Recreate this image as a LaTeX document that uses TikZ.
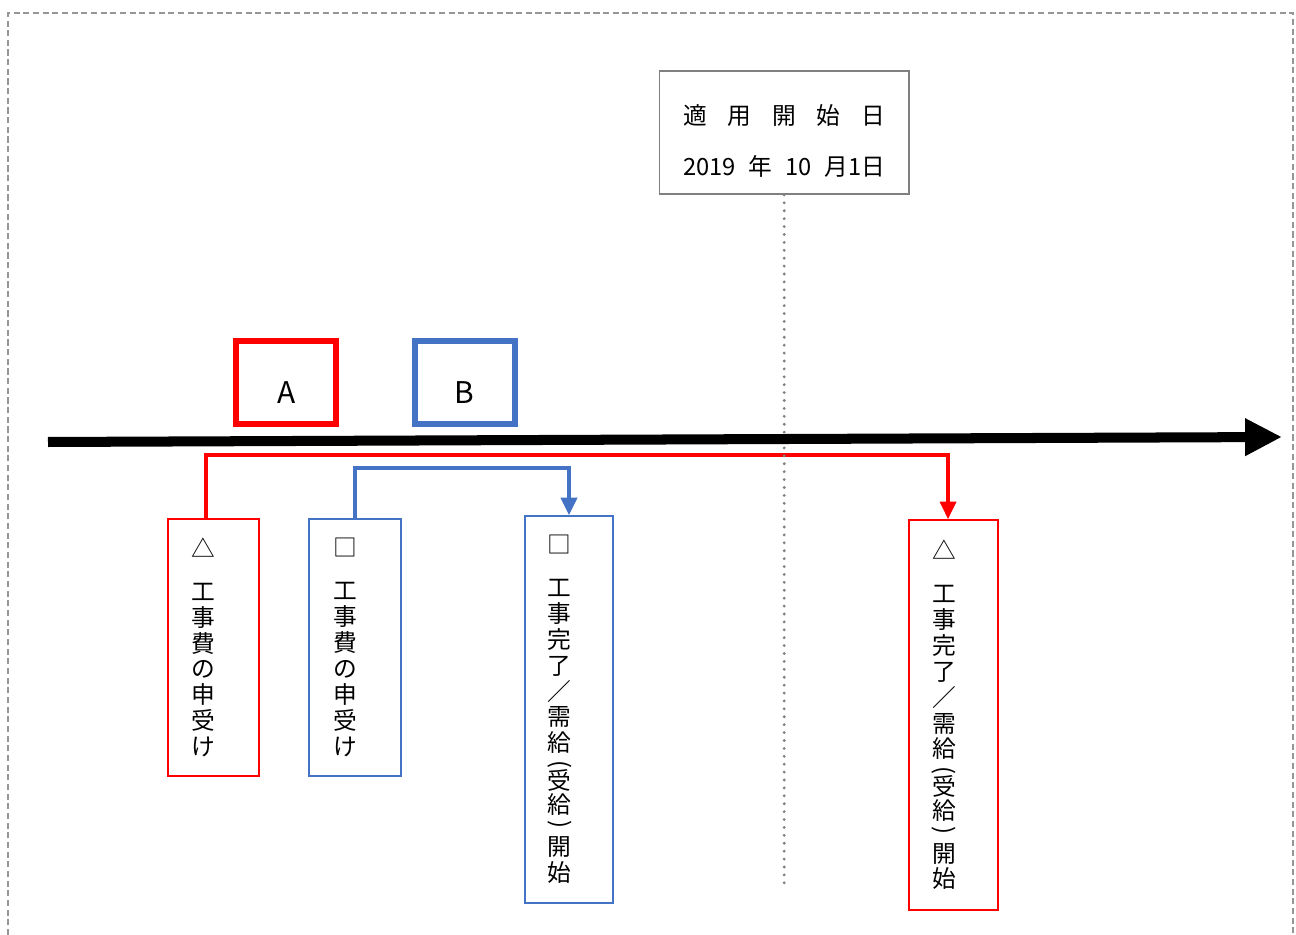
\documentclass[tikz,border=0pt]{standalone}
\usepackage{fontspec}
\setmainfont{Noto Sans CJK JP}
\usepackage{graphicx}
\definecolor{akared}{RGB}{255, 0, 0}
\definecolor{aoblue}{RGB}{68, 114, 196}
\definecolor{wakugray}{RGB}{150, 150, 150}
\usepackage{tikz}
\usetikzlibrary{arrows.meta}
\usetikzlibrary{positioning}
\newcommand{\tategaki}[1]{\parbox{18pt}{\centering #1}\kern10.9pt}
\newcommand{\kakko}[1]{\rotatebox[origin=c]{-90}{#1}}
\tikzset{
    arrow/.style={-{Triangle[length=10pt,width=9pt]}, line width=2.3pt},
    timeline/.style={-{Triangle[length=21pt,width=20pt]}, line width=5.7pt},
    labelbox/.style = {
      draw,
      line width=3.4pt,
      minimum width=2cm,
      minimum height=1.65cm,
      inner sep=0pt,
      font=\fontsize{17}{17}\selectfont
    },
    tatebox/.style = {
      draw,
      line width=0.85pt,
      inner sep=0pt,
      font=\fontsize{13.5}{14.75}\selectfont
    },
    datebox/.style = {
      draw=gray,
      line width=1.1pt,
      minimum width=4.99cm,
      minimum height=2.46cm,
      inner sep=0pt,
      font=\fontsize{13.5}{16}\selectfont
    },
    wakusen/.style = {draw=wakugray, dash pattern=on 3.5pt off 2pt, line width=0.9pt},
    dotline/.style = {draw=gray, line width=1.8pt, dash pattern=on 0pt off 4.5pt, line cap=round},
}
\begin{document}
\begin{tikzpicture}[x=0.02cm, y=-0.02cm]
      \useasboundingbox (0,0) rectangle (1296,935);
      \draw[wakusen] (8,935) -- (8,13) -- (1293,13) -- (1293,935);

      \node [datebox] (hizuke) at (784.2,132.5) {\raisebox{-6.7pt}[\height][\depth]{\begin{tabular}{@{}c@{}}\makebox[115pt][s]{適 用 開 始 日}\\[12.35pt]\makebox[115pt][s]{2019 年 10 月1日}\end{tabular}}};

      \node [labelbox, draw=akared] (hakoA) at (286.3,382.5) {\raisebox{-5.7pt}[\height][\depth]{A}};
      \node [labelbox, draw=aoblue, right=1.45cm of hakoA] (hakoB) {\raisebox{-5.7pt}[\height][\depth]{B}};

      \node [
        tatebox,
        draw=akared,
        minimum width=1.82cm,
        minimum height=5.14cm,
      ] (koujiA) at (213.3,647.5) {\tategaki{△\\[9.6pt]工\\事\\費\\の\\申\\受\\け}};

      \node [
        tatebox,
        draw=aoblue,
        minimum width=1.84cm,
        minimum height=5.14cm,
        right=0.97cm of koujiA,
      ] (koujiB) {\tategaki{□\\[9.6pt]工\\事\\費\\の\\申\\受\\け}};

      \node [
        tatebox,
        draw=aoblue,
        minimum width=1.76cm,
        minimum height=7.74cm,
      ] (kanryoB) at (569,709.5) {\tategaki{□\\[9.6pt]工\\事\\完\\了\\／\\需\\給\\[-3.5pt]\kakko{(}\\[-4.5pt]受\\[-1pt]給\\[-4.5pt]\kakko{)}\\[-1pt]開\\始}};

      \node [
        tatebox,
        draw=akared,
        minimum width=1.78cm,
        minimum height=7.8cm,
      ] (kanryoA) at (953.5,715) {\tategaki{△\\[9.6pt]工\\事\\完\\了\\／\\需\\給\\[-3.5pt]\kakko{(}\\[-4.5pt]受\\[-1pt]給\\[-4.5pt]\kakko{)}\\[-1pt]開\\始}};

      \draw[arrow, akared] ([xshift=-4.25pt]koujiA.north) -- ++(0,-63.5) -| ([xshift=-3.1pt]kanryoA.north);
      \draw[arrow, aoblue] (koujiB.north) -- ++(0,-50) -| (kanryoB.north);

      \coordinate (tensen) at (783,884);
      \draw[dotline] (hizuke.south) -- (hizuke.south |- tensen);

      \coordinate (jikuS) at (48,442);
      \coordinate (jikuE) at (1282,437);
      \draw[timeline] (jikuS) -- (jikuE);
    \end{tikzpicture}
\end{document}
